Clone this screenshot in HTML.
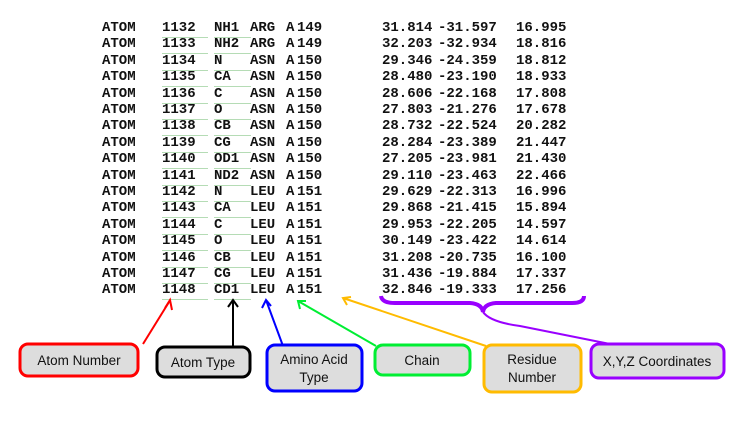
<!DOCTYPE html>
<html><head><meta charset="utf-8"><style>
body{margin:0;width:750px;height:428px;background:#fff;position:relative;overflow:hidden;font-family:"Liberation Mono",monospace}
.r{position:absolute;left:0;width:750px;height:16px;font-size:14px;font-weight:bold;color:#111;white-space:pre}
.r span{position:absolute;top:0}
.u{border-bottom:1px solid #b5dcb5;padding-bottom:1px}
svg{position:absolute;left:0;top:0}
</style></head><body>
<div id="rows"></div>
<svg width="750" height="428">
<g fill="none" stroke-width="2">
<path d="M143,344 L169,302" stroke="#f00"/>
<path d="M165,308 L170,300 L172,310" stroke="#f00"/>
<path d="M233,346 L233,300 M228,307 L233,300 L238,307" stroke="#000"/>
<path d="M283,346 L266,300 M262,308 L266,300 L271,306" stroke="#00f"/>
<path d="M376,346 L298,301 M300,309 L298,301 L306,301" stroke="#0e3"/>
<path d="M486,346 L343,298 M347,305 L343,298 L351,297" stroke="#fb0"/>
<path d="M381,296 Q382,303 395,303 L470,303 Q482,304 483,312 Q484,304 496,303 L572,303 Q584,303 584,296" stroke="#90f" stroke-width="4"/>
<path d="M483,312 Q490,322 520,326 L630,348" stroke="#90f"/>
</g>
<g stroke-width="3" fill="#ddd">
<rect x="20" y="344" width="118" height="32" rx="8" stroke="#f00"/>
<rect x="157" y="347" width="93" height="30" rx="8" stroke="#000"/>
<rect x="267" y="345" width="95" height="46" rx="8" stroke="#00f"/>
<rect x="375" y="345" width="95" height="30" rx="8" stroke="#0e3"/>
<rect x="484" y="345" width="97" height="47" rx="8" stroke="#fb0"/>
<rect x="591" y="344" width="133" height="34" rx="8" stroke="#90f"/>
</g>
<g font-family="Liberation Sans, sans-serif" font-size="13.5" fill="#111" text-anchor="middle">
<text x="79" y="365">Atom Number</text>
<text x="203" y="367">Atom Type</text>
<text x="314" y="364">Amino Acid</text>
<text x="314" y="382">Type</text>
<text x="422" y="365">Chain</text>
<text x="532" y="364">Residue</text>
<text x="532" y="382">Number</text>
<text x="657" y="366">X,Y,Z Coordinates</text>
</g>
</svg>
<script>
const nums=[1132,1133,1134,1135,1136,1137,1138,1139,1140,1141,1142,1143,1144,1145,1146,1147,1148];
const types=["NH1","NH2","N","CA","C","O","CB","CG","OD1","ND2","N","CA","C","O","CB","CG","CD1"];
const res=["ARG","ARG","ASN","ASN","ASN","ASN","ASN","ASN","ASN","ASN","LEU","LEU","LEU","LEU","LEU","LEU","LEU"];
const resNum=[149,149,150,150,150,150,150,150,150,150,151,151,151,151,151,151,151];
const xs=["31.814","32.203","29.346","28.480","28.606","27.803","28.732","28.284","27.205","29.110","29.629","29.868","29.953","30.149","31.208","31.436","32.846"];
const ys=["-31.597","-32.934","-24.359","-23.190","-22.168","-21.276","-22.524","-23.389","-23.981","-23.463","-22.313","-21.415","-22.205","-23.422","-20.735","-19.884","-19.333"];
const zs=["16.995","18.816","18.812","18.933","17.808","17.678","20.282","21.447","21.430","22.466","16.996","15.894","14.597","14.614","16.100","17.337","17.256"];
const c=document.getElementById('rows');
nums.forEach((n,i)=>{
const r=document.createElement('div');r.className='r';r.style.top=(20+i*16.4)+'px';


const cols=[[102,'ATOM',''],[162,String(n),'u'],[214,types[i],'u'],[250,res[i],''],[286,'A',''],[297,String(resNum[i]),''],[382,xs[i],''],[438,ys[i],''],[516,zs[i],'']];
cols.forEach(([x,t,cl])=>{const s=document.createElement('span');s.style.left=x+'px';s.textContent=t;
if(cl==='u'){s.className='u';s.style.width=(x===162?46:37)+'px';}
r.appendChild(s);});
c.appendChild(r);});
</script>
</body></html>
